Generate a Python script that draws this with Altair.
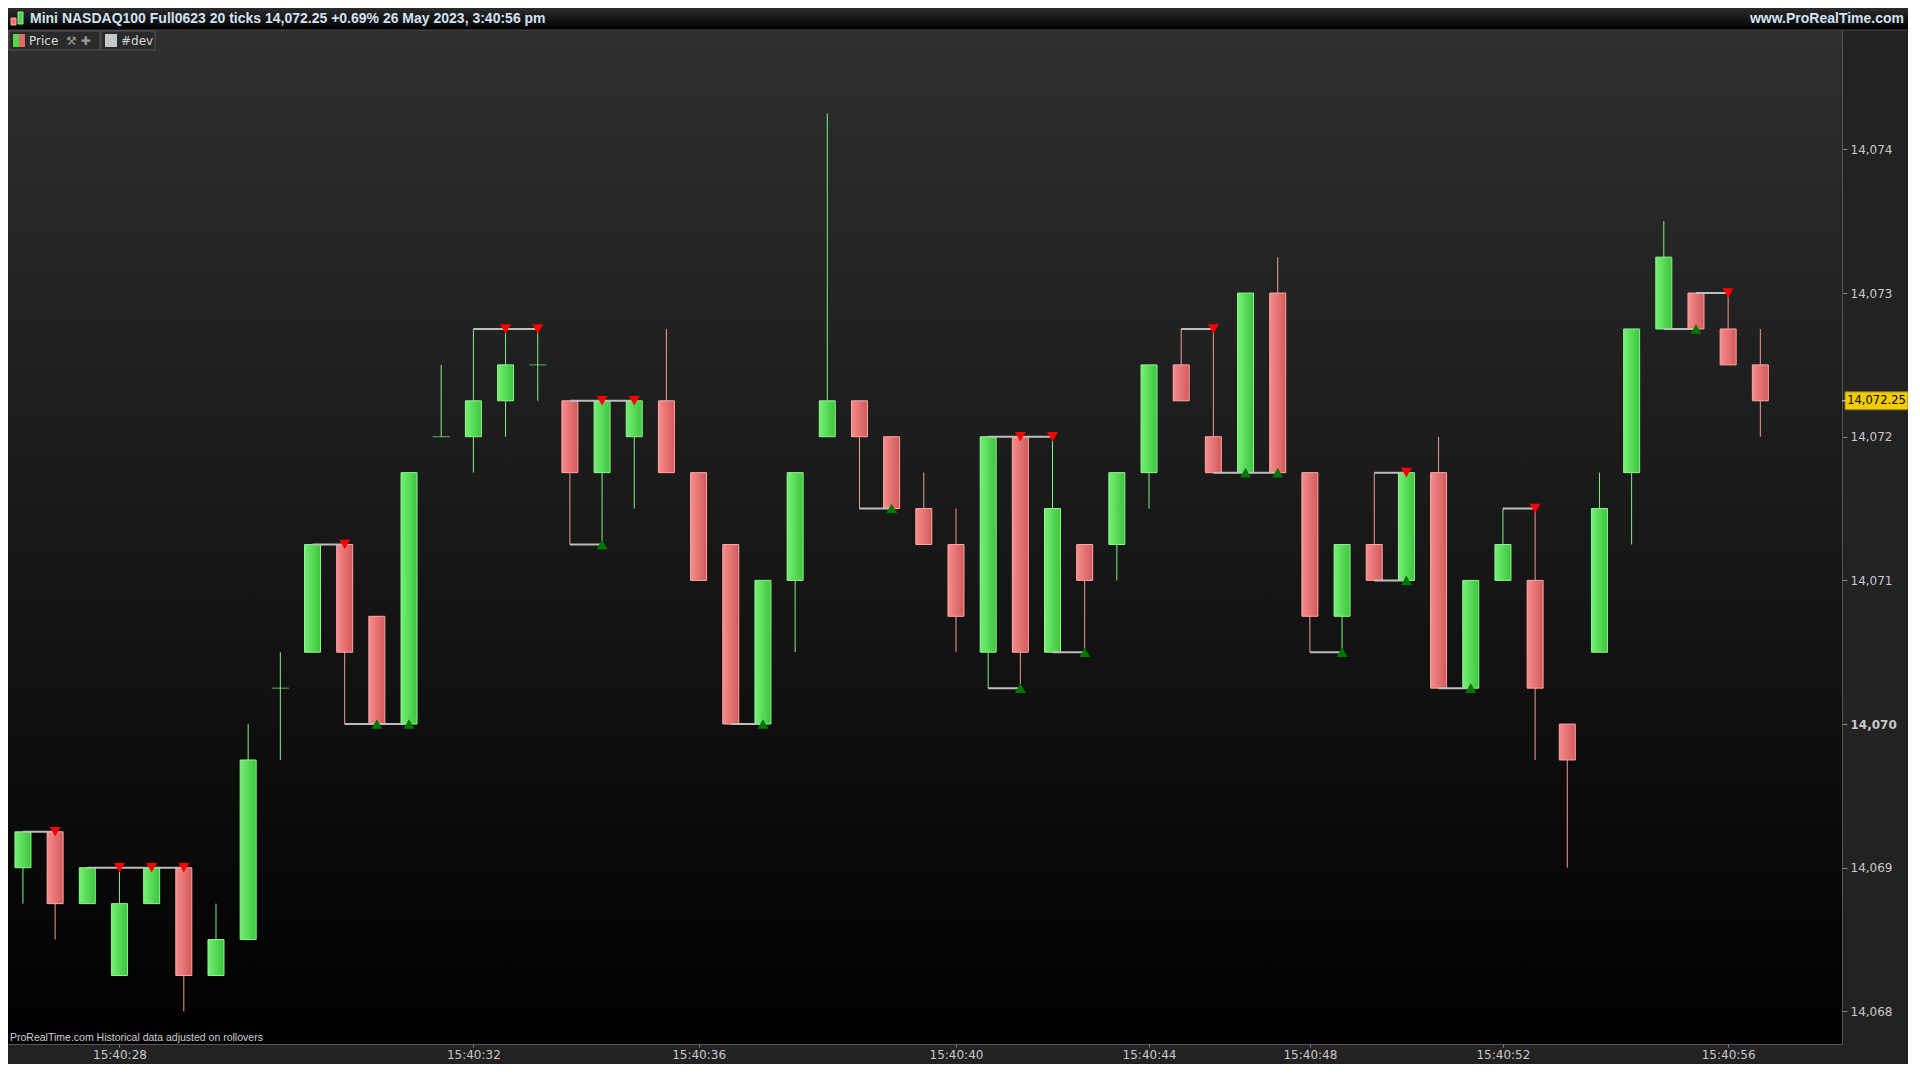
import altair as alt
import pandas as pd

# ---------------- data ----------------
opens = [14069.0, 14069.25, 14068.75, 14068.25, 14068.75, 14069.0, 14068.25, 14068.5, 14070.25, 14070.5,
         14071.25, 14070.75, 14070.0, 14072.0, 14072.0, 14072.25, 14072.5, 14072.25, 14071.75, 14072.0,
         14072.25, 14071.75, 14071.25, 14070.0, 14071.0, 14072.0, 14072.25, 14072.0, 14071.5, 14071.25,
         14070.5, 14072.0, 14070.5, 14071.25, 14071.25, 14071.75, 14072.5, 14072.0, 14071.75, 14073.0,
         14071.75, 14070.75, 14071.25, 14071.0, 14071.75, 14070.25, 14071.0, 14071.0, 14070.0, 14070.5,
         14071.75, 14072.75, 14073.0, 14072.75, 14072.5]
highs = [14069.25, 14069.25, 14069.0, 14069.0, 14069.0, 14069.0, 14068.75, 14070.0, 14070.5, 14071.25,
         14071.25, 14070.75, 14071.75, 14072.5, 14072.75, 14072.75, 14072.75, 14072.25, 14072.25, 14072.25,
         14072.75, 14071.75, 14071.25, 14071.0, 14071.75, 14074.25, 14072.25, 14072.0, 14071.75, 14071.5,
         14072.0, 14072.0, 14072.0, 14071.25, 14071.75, 14072.5, 14072.75, 14072.75, 14073.0, 14073.25,
         14071.75, 14071.25, 14071.75, 14071.75, 14072.0, 14071.0, 14071.5, 14071.5, 14070.0, 14071.75,
         14072.75, 14073.5, 14073.0, 14073.0, 14072.75]
lows = [14068.75, 14068.5, 14068.75, 14068.25, 14068.75, 14068.0, 14068.25, 14068.5, 14069.75, 14070.5,
        14070.0, 14070.0, 14070.0, 14072.0, 14071.75, 14072.0, 14072.25, 14071.25, 14071.25, 14071.5,
        14071.75, 14071.0, 14070.0, 14070.0, 14070.5, 14072.0, 14071.5, 14071.5, 14071.25, 14070.5,
        14070.25, 14070.25, 14070.5, 14070.5, 14071.0, 14071.5, 14072.25, 14071.75, 14071.75, 14071.75,
        14070.5, 14070.5, 14071.0, 14071.0, 14070.25, 14070.25, 14071.0, 14069.75, 14069.0, 14070.5,
        14071.25, 14072.75, 14072.75, 14072.5, 14072.0]
closes = [14069.25, 14068.75, 14069.0, 14068.75, 14069.0, 14068.25, 14068.5, 14069.75, 14070.25, 14071.25,
          14070.5, 14070.0, 14071.75, 14072.0, 14072.25, 14072.5, 14072.5, 14071.75, 14072.25, 14072.25,
          14071.75, 14071.0, 14070.0, 14071.0, 14071.75, 14072.25, 14072.0, 14071.5, 14071.25, 14070.75,
          14072.0, 14070.5, 14071.5, 14071.0, 14071.75, 14072.5, 14072.25, 14071.75, 14073.0, 14071.75,
          14070.75, 14071.25, 14071.0, 14071.75, 14070.25, 14071.0, 14071.25, 14070.25, 14069.75, 14071.5,
          14072.75, 14073.25, 14072.75, 14072.5, 14072.25]

time_tick_bars = [3, 14, 21, 29, 35, 40, 46, 53]
time_tick_labels = ["15:40:28", "15:40:32", "15:40:36", "15:40:40",
                    "15:40:44", "15:40:48", "15:40:52", "15:40:56"]
price_ticks = [14068, 14069, 14070, 14071, 14072, 14073, 14074]

# "#dev" indicator: equal highs / equal lows
dev_hi_from = [0, 2, 9, 14, 17, 30, 36, 42, 46, 52]
dev_hi_to = [1, 5, 10, 16, 19, 32, 37, 43, 47, 53]
dev_hi_level = [14069.25, 14069.0, 14071.25, 14072.75, 14072.25, 14072.0, 14072.75, 14071.75, 14071.5, 14073.0]
dev_lo_from = [10, 17, 22, 26, 30, 32, 37, 40, 42, 44, 51]
dev_lo_to = [12, 18, 23, 27, 31, 33, 39, 41, 43, 45, 52]
dev_lo_level = [14070.0, 14071.25, 14070.0, 14071.5, 14070.25, 14070.5, 14071.75, 14070.5, 14071.0, 14070.25, 14072.75]
hi_mark_bars = [1, 3, 4, 5, 10, 15, 16, 18, 19, 31, 32, 37, 43, 47, 53]
lo_mark_bars = [11, 12, 18, 23, 27, 31, 33, 38, 39, 41, 43, 45, 52]

title_text = "Mini NASDAQ100 Full0623 20 ticks 14,072.25 +0.69% 26 May 2023, 3:40:56 pm"
site_text = "www.ProRealTime.com"
footer_text = "ProRealTime.com  Historical data adjusted on rollovers"
last_price = closes[-1]
last_label = "14,072.25"

# ---------------- tables ----------------
bars = pd.DataFrame({"i": list(range(len(opens))), "o": opens, "h": highs, "l": lows, "c": closes})
dev_lines = pd.DataFrame({
    "a": dev_hi_from + dev_lo_from,
    "b": dev_hi_to + dev_lo_to,
    "lvl": dev_hi_level + dev_lo_level,
})
hi_marks = pd.DataFrame({"i": hi_mark_bars, "p": [highs[k] for k in hi_mark_bars]})
lo_marks = pd.DataFrame({"i": lo_mark_bars, "p": [lows[k] for k in lo_mark_bars]})
one = pd.DataFrame({"k": [0]})

# ---------------- layout ----------------
W, H = 1834, 1014
PAD = {"top": 22, "bottom": 20, "left": 0, "right": 66}
TOTAL_W = W + PAD["right"]

label_expr = "".join(f"datum.value == {b} ? '{t}' : " for b, t in zip(time_tick_bars, time_tick_labels)) + "''"

xs = alt.Scale(domain=[-0.309, 56.383], nice=False, zero=False)
ys = alt.Scale(domain=[14067.773, 14074.831], nice=False, zero=False)
xax = alt.Axis(values=time_tick_bars, labelExpr=label_expr, title=None, grid=False, orient="bottom",
               tickSize=3, tickColor="#888888", domainColor="#555555", labelColor="#c8c8c8",
               labelFont="DejaVu Sans", labelFontSize=12, labelPadding=2, labelFlush=False,
               labelOverlap=False)
yax = alt.Axis(values=price_ticks, format=",.0f", title=None, grid=False, orient="right",
               tickSize=5, tickColor="#888888", domainColor="#555555", labelColor="#c8c8c8",
               labelFont="DejaVu Sans", labelFontSize=12, labelPadding=3, labelFlush=False,
               labelOverlap=False,
               labelFontWeight=alt.condition("datum.value == 14070", alt.value("bold"), alt.value("normal")))


def X(f):
    return alt.X(f, type="quantitative", scale=xs, axis=xax)


def Y(f):
    return alt.Y(f, type="quantitative", scale=ys, axis=yax)


def vgrad(c0, c1):
    return {"gradient": "linear", "x1": 0, "y1": 0, "x2": 0, "y2": 1,
            "stops": [{"offset": 0, "color": c0}, {"offset": 1, "color": c1}]}


def hgrad(c0, c1):
    return {"gradient": "linear", "x1": 0, "y1": 0, "x2": 1, "y2": 0,
            "stops": [{"offset": 0, "color": c0}, {"offset": 1, "color": c1}]}


GREEN_WICK, RED_WICK = "#80f080", "#f39a9a"

background = alt.Chart(one).mark_rect(fill=vgrad("#2f2f2f", "#000000")).encode(
    x=alt.value(0), x2=alt.value(W), y=alt.value(0), y2=alt.value(H))

wicks = alt.Chart(bars).mark_rule(strokeWidth=1).encode(
    x=X("i"), y=Y("l"), y2="h",
    color=alt.condition("datum.c >= datum.o", alt.value(GREEN_WICK), alt.value(RED_WICK)))

up_bodies = alt.Chart(bars).transform_filter("datum.c > datum.o").mark_bar(
    size=16, fill=hgrad("#74f074", "#3dc53d"), stroke="#8ef58e", strokeWidth=1).encode(
    x=X("i"), y=Y("o"), y2="c")

down_bodies = alt.Chart(bars).transform_filter("datum.c < datum.o").mark_bar(
    size=16, fill=hgrad("#f88c8c", "#d25a5a"), stroke="#ffa6a6", strokeWidth=1).encode(
    x=X("i"), y=Y("o"), y2="c")

doji = alt.Chart(bars).transform_filter("datum.c == datum.o").mark_tick(
    orient="horizontal", size=17, thickness=1, color=GREEN_WICK).encode(x=X("i"), y=Y("c"))

dev = alt.Chart(dev_lines).mark_rule(color="#bdbdbd", strokeWidth=2).encode(
    x=X("a"), x2="b", y=Y("lvl"))

hi_tri = alt.Chart(hi_marks).mark_point(shape="triangle-down", filled=True, size=121,
                                        color="#ff0000", opacity=1).encode(x=X("i"), y=Y("p"))
lo_tri = alt.Chart(lo_marks).mark_point(shape="triangle-up", filled=True, size=121,
                                        color="#007800", opacity=1).encode(x=X("i"), y=Y("p"))

# ---- frame: title bar, legend, footer, last price label ----
title_bar = alt.Chart(one).mark_rect(fill=vgrad("#2c2c2c", "#000000")).encode(
    x=alt.value(0), x2=alt.value(TOTAL_W), y=alt.value(-22), y2=alt.value(0))
title_line = alt.Chart(one).mark_rule(color="#4a4a4a").encode(
    x=alt.value(0), x2=alt.value(TOTAL_W), y=alt.value(0))
icon_red = alt.Chart(one).mark_rect(fill="#f07070", stroke="#ffaaaa").encode(
    x=alt.value(3), x2=alt.value(8), y=alt.value(-12), y2=alt.value(-5))
icon_green = alt.Chart(one).mark_rect(fill="#50d050", stroke="#90f090").encode(
    x=alt.value(10), x2=alt.value(15), y=alt.value(-18), y2=alt.value(-6))
title_txt = alt.Chart(pd.DataFrame({"t": [title_text]})).mark_text(
    align="left", baseline="middle", font="Liberation Sans", fontWeight="bold", fontSize=14,
    color="#d2e2f4").encode(x=alt.value(22), y=alt.value(-11), text="t:N")
site_txt = alt.Chart(pd.DataFrame({"t": [site_text]})).mark_text(
    align="right", baseline="middle", font="Liberation Sans", fontWeight="bold", fontSize=14,
    color="#d2e2f4").encode(x=alt.value(TOTAL_W - 4), y=alt.value(-11), text="t:N")

legend_box1 = alt.Chart(one).mark_rect(fill="#2a2a2a", stroke="#555555").encode(
    x=alt.value(1), x2=alt.value(92), y=alt.value(1), y2=alt.value(20))
legend_box2 = alt.Chart(one).mark_rect(fill="#2a2a2a", stroke="#555555").encode(
    x=alt.value(93), x2=alt.value(147), y=alt.value(1), y2=alt.value(20))
leg_green = alt.Chart(one).mark_rect(fill="#50d850").encode(
    x=alt.value(5), x2=alt.value(11), y=alt.value(4), y2=alt.value(17))
leg_red = alt.Chart(one).mark_rect(fill="#e86868").encode(
    x=alt.value(11), x2=alt.value(17), y=alt.value(4), y2=alt.value(17))
leg_price = alt.Chart(pd.DataFrame({"t": ["Price"]})).mark_text(
    align="left", baseline="middle", font="DejaVu Sans", fontSize=12, color="#d8d8d8").encode(
    x=alt.value(21), y=alt.value(11), text="t:N")
leg_tools = alt.Chart(pd.DataFrame({"t": ["\u2692 \u271a"]})).mark_text(
    align="left", baseline="middle", font="DejaVu Sans", fontSize=12, color="#9a9a9a").encode(
    x=alt.value(58), y=alt.value(11), text="t:N")
leg_grey = alt.Chart(one).mark_rect(fill="#c8c8c8").encode(
    x=alt.value(97), x2=alt.value(109), y=alt.value(4), y2=alt.value(17))
leg_dev = alt.Chart(pd.DataFrame({"t": ["#dev"]})).mark_text(
    align="left", baseline="middle", font="DejaVu Sans", fontSize=12, color="#d8d8d8").encode(
    x=alt.value(113), y=alt.value(11), text="t:N")

footer = alt.Chart(pd.DataFrame({"t": [footer_text]})).mark_text(
    align="left", baseline="middle", font="Liberation Sans", fontSize=10.5, color="#d0d0d0").encode(
    x=alt.value(2), y=alt.value(H - 6), text="t:N")

lp = pd.DataFrame({"p": [last_price], "lo": [last_price - 0.0625], "hi": [last_price + 0.0625],
                   "t": [last_label]})
lp_box = alt.Chart(lp).mark_rect(fill="#f2cc00", stroke="#8a7a20").encode(
    x=alt.value(W + 3), x2=alt.value(W + 66), y=Y("lo"), y2="hi")
lp_tick = alt.Chart(lp).mark_rule(color="#e0e0e0").encode(
    x=alt.value(W), x2=alt.value(W + 4), y=Y("p"))
lp_txt = alt.Chart(lp).mark_text(align="center", baseline="middle", font="DejaVu Sans", fontSize=11.5,
                                 color="#000000").encode(x=alt.value(W + 34.5), y=Y("p"), text="t:N")

chart = alt.layer(
    background, wicks, up_bodies, down_bodies, doji, dev, hi_tri, lo_tri,
    title_bar, title_line, icon_red, icon_green, title_txt, site_txt,
    legend_box1, legend_box2, leg_green, leg_red, leg_price, leg_tools, leg_grey, leg_dev,
    footer, lp_box, lp_tick, lp_txt,
).properties(
    width=W, height=H,
    autosize=alt.AutoSizeParams(type="none"),
    padding=PAD,
    background="#222222",
).configure_view(strokeWidth=0)

chart.save("out.html", embed_options={"renderer": "svg", "actions": False})
